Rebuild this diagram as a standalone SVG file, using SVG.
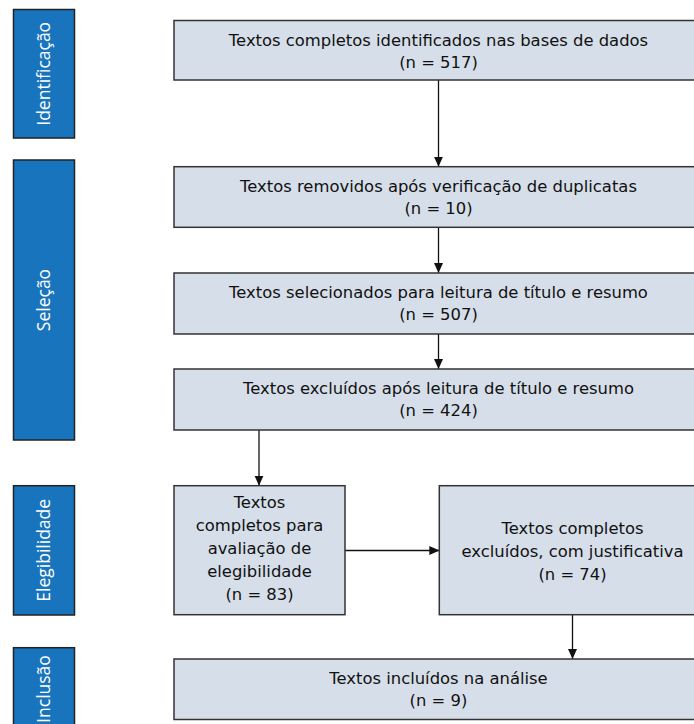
<svg xmlns="http://www.w3.org/2000/svg" width="694" height="724" viewBox="0 0 694 724">
<style>
.side{fill:#1874bc;stroke:#222;stroke-width:1.5}
.box{fill:#d6dfe9;stroke:#333;stroke-width:1.5}
.st{font-family:"Open Sans","Noto Sans",sans-serif;font-size:17.5px;fill:#fff;text-anchor:middle}
.t{font-family:"DejaVu Sans",sans-serif;font-size:16.4px;fill:#111;text-anchor:middle}
.c{stroke:#111;stroke-width:1.3;fill:none;marker-end:url(#ah)}
</style>
<defs>
<marker id="ah" markerWidth="10" markerHeight="10" refX="10" refY="5" orient="auto" markerUnits="userSpaceOnUse">
<path d="M0,0.5 L10,5 L0,9.5 Z" fill="#111"/>
</marker>
</defs>
<rect width="694" height="724" fill="#fff"/>
<g id="phase-identificacao">
<rect class="side" x="13.5" y="9.5" width="61" height="128.5"/>
<text class="st" transform="translate(50,73.8) rotate(-90)">Identificação</text>
</g>
<g id="phase-selecao">
<rect class="side" x="13.5" y="160" width="61" height="280"/>
<text class="st" transform="translate(50,300) rotate(-90)">Seleção</text>
</g>
<g id="phase-elegibilidade">
<rect class="side" x="13.5" y="485.7" width="61" height="129.3"/>
<text class="st" transform="translate(50,550.3) rotate(-90)">Elegibilidade</text>
</g>
<g id="phase-inclusao">
<rect class="side" x="13.5" y="647.7" width="61" height="82"/>
<text class="st" transform="translate(50,689) rotate(-90)">Inclusão</text>
</g>
<g id="connectors">
<line class="c" x1="438.5" y1="80" x2="438.5" y2="166.7"/>
<line class="c" x1="438.5" y1="227.3" x2="438.5" y2="273"/>
<line class="c" x1="438.5" y1="334" x2="438.5" y2="369"/>
<line class="c" x1="259" y1="430" x2="259" y2="485.7"/>
<line class="c" x1="345" y1="550.5" x2="439.3" y2="550.5"/>
<line class="c" x1="572.5" y1="614.5" x2="572.5" y2="659"/>
</g>
<g id="n1">
<rect class="box" x="174" y="20.5" width="530" height="59.5"/>
<text class="t" x="438.5" y="46">Textos completos identificados nas bases de dados</text>
<text class="t" x="438.5" y="68">(n = 517)</text>
</g>
<g id="n2">
<rect class="box" x="174" y="166.7" width="530" height="60.6"/>
<text class="t" x="438.5" y="191.5">Textos removidos após verificação de duplicatas</text>
<text class="t" x="438.5" y="213.5">(n = 10)</text>
</g>
<g id="n3">
<rect class="box" x="174" y="273" width="530" height="61"/>
<text class="t" x="438.5" y="298">Textos selecionados para leitura de título e resumo</text>
<text class="t" x="438.5" y="320">(n = 507)</text>
</g>
<g id="n4">
<rect class="box" x="174" y="369" width="530" height="61"/>
<text class="t" x="438.5" y="394">Textos excluídos após leitura de título e resumo</text>
<text class="t" x="438.5" y="416">(n = 424)</text>
</g>
<g id="n5">
<rect class="box" x="174" y="485.7" width="171" height="129"/>
<text class="t" x="259.5" y="507.5">Textos</text>
<text class="t" x="259.5" y="530.5">completos para</text>
<text class="t" x="259.5" y="553.5">avaliação de</text>
<text class="t" x="259.5" y="576.5">elegibilidade</text>
<text class="t" x="259.5" y="599.5">(n = 83)</text>
</g>
<g id="n6">
<rect class="box" x="439.3" y="485.7" width="266" height="129"/>
<text class="t" x="572.5" y="533.5">Textos completos</text>
<text class="t" x="572.5" y="556.5">excluídos, com justificativa</text>
<text class="t" x="572.5" y="579.5">(n = 74)</text>
</g>
<g id="n7">
<rect class="box" x="174" y="659" width="530" height="60.5"/>
<text class="t" x="438.5" y="683.5">Textos incluídos na análise</text>
<text class="t" x="438.5" y="705.5">(n = 9)</text>
</g>
</svg>
